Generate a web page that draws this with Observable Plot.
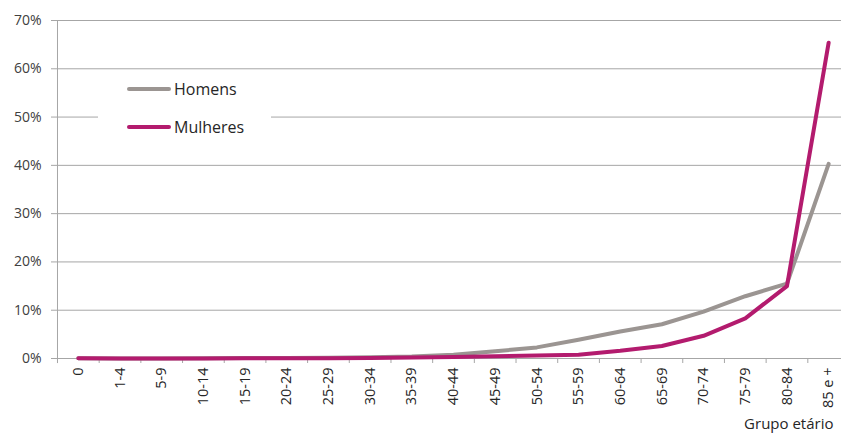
<!DOCTYPE html>
<html><head><meta charset="utf-8">
<script src="https://cdn.jsdelivr.net/npm/d3@7"></script>
<script src="https://cdn.jsdelivr.net/npm/@observablehq/plot@0.6"></script>
<style>
body{margin:0;background:#fff;}
#wrap{position:relative;width:841px;height:436px;font-family:"Open Sans",sans-serif;}
#legend{position:absolute;left:98px;top:74px;width:173px;height:72px;background:#fff;}
.item{position:absolute;left:29px;height:20px;display:flex;align-items:center;font-size:16px;color:#262626;}
.sw{width:44px;height:4px;border-radius:2px;margin-right:3px;}
</style></head>
<body><div id="wrap"></div>
<script>
const categories = ["0","1-4","5-9","10-14","15-19","20-24","25-29","30-34","35-39","40-44","45-49","50-54","55-59","60-64","65-69","70-74","75-79","80-84","85 e +"];
const homens = [0.05,0.02,0.02,0.03,0.08,0.12,0.15,0.25,0.4,0.8,1.5,2.3,3.9,5.6,7.1,9.7,12.9,15.5,40.3];
const mulheres = [0.03,0.01,0.01,0.02,0.03,0.04,0.06,0.1,0.2,0.3,0.45,0.6,0.8,1.6,2.6,4.7,8.3,15.0,65.4];
const yTicks = [0,10,20,30,40,50,60,70];
const series = [{name:"Homens", values: homens, color:"#9b9592"},{name:"Mulheres", values: mulheres, color:"#b31b6e"}];

const rows = series.flatMap(s => s.values.map((v,i) => ({cat: categories[i], v, s: s.name})));
const xr = [57, 849];
const step = (xr[1]-xr[0]) / categories.length;
const grid = "#a6a6a6";

const chart = Plot.plot({
  width: 841, height: 436,
  marginLeft: 57, marginRight: 0, marginTop: 20, marginBottom: 78,
  style: {fontFamily: "'Open Sans', sans-serif", fontSize: "13px", color: "#404040", background: "#fff"},
  x: {type: "point", domain: categories, range: xr, padding: 0.5, round: false},
  y: {domain: [0, 70]},
  color: {domain: series.map(s=>s.name), range: series.map(s=>s.color)},
  marks: [
    Plot.gridY(yTicks.slice(1), {stroke: grid, strokeOpacity: 1}),
    Plot.ruleY([0], {stroke: grid}),
    Plot.ruleX([categories[0]], {dx: -step/2, y1: -1.05, y2: 70, stroke: grid}),
    Plot.axisY(yTicks, {tickFormat: d => d + "%", tickSize: 6, tickPadding: 10, stroke: grid, fill: "#404040", fontSize: 14, label: null}),
    Plot.axisX(categories, {tickSize: 5, tickFormat: () => "", dx: -step/2, stroke: grid, label: null}),
    Plot.axisX(categories, {tickSize: 0, tickPadding: 9, tickRotate: -90, fill: "#262626", fontSize: 14.5, label: null}),
    Plot.line(rows, {x: "cat", y: "v", z: "s", stroke: "s", strokeWidth: 4, strokeLinejoin: "round", strokeLinecap: "round"}),
    Plot.text(["Grupo etário"], {frameAnchor: "bottom-right", dy: 70, dx: -8, textAnchor: "end", fill: "#262626", fontSize: 15})
  ]
});
const wrap = document.getElementById("wrap");
wrap.appendChild(chart);
const lg = document.createElement("div");
lg.id = "legend";
series.forEach((s, i) => {
  const it = document.createElement("div");
  it.className = "item";
  it.style.top = (5 + i*38) + "px";
  it.innerHTML = `<span class="sw" style="background:${s.color}"></span><span>${s.name}</span>`;
  lg.appendChild(it);
});
wrap.appendChild(lg);
</script></body></html>
